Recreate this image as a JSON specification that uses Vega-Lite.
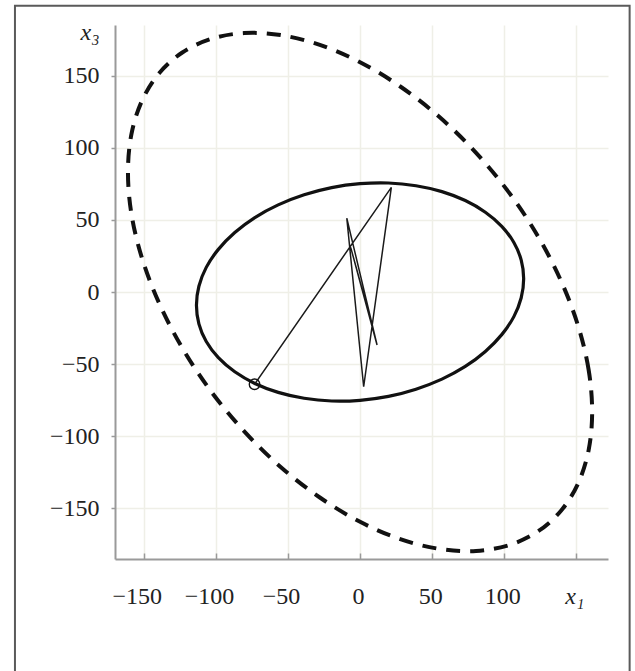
{
  "$schema": "https://vega.github.io/schema/vega-lite/v6.json",
  "width": 493,
  "height": 534,
  "autosize": "none",
  "padding": {"left": 115, "top": 25, "right": 27, "bottom": 112},
  "background": "white",
  "config": {
    "view": {"stroke": null},
    "font": "Liberation Serif",
    "axis": {
      "labelFont": "Liberation Serif", "labelFontSize": 24, "labelColor": "#222222",
      "labelFlush": false, "labelOverlap": false,
      "tickColor": "#9a9a9a", "tickWidth": 1.5,
      "domainColor": "#9a9a9a", "domainWidth": 2,
      "grid": true, "gridColor": "#efefe7", "gridWidth": 1.5,
      "title": null
    },
    "axisX": {"tickSize": -6, "labelPadding": 31},
    "axisY": {"tickSize": 4, "labelPadding": 12}
  },
  "datasets": {
    "outer": [
      {"i": 0, "x1": 161, "x3": -83.2}, {"i": 1, "x1": 158.6, "x3": -54.2}, {"i": 2, "x1": 151.3, "x3": -23.6},
      {"i": 3, "x1": 139.4, "x3": 7.7}, {"i": 4, "x1": 123.3, "x3": 38.9}, {"i": 5, "x1": 103.5, "x3": 68.8},
      {"i": 6, "x1": 80.5, "x3": 96.6}, {"i": 7, "x1": 55.1, "x3": 121.5}, {"i": 8, "x1": 27.9, "x3": 142.7},
      {"i": 9, "x1": 0, "x3": 159.6}, {"i": 10, "x1": -27.9, "x3": 171.6}, {"i": 11, "x1": -55.1, "x3": 178.4},
      {"i": 12, "x1": -80.5, "x3": 179.8}, {"i": 13, "x1": -103.5, "x3": 175.7}, {"i": 14, "x1": -123.3, "x3": 166.3},
      {"i": 15, "x1": -139.4, "x3": 151.9}, {"i": 16, "x1": -151.3, "x3": 132.8}, {"i": 17, "x1": -158.6, "x3": 109.6},
      {"i": 18, "x1": -161, "x3": 83.2}, {"i": 19, "x1": -158.6, "x3": 54.2}, {"i": 20, "x1": -151.3, "x3": 23.6},
      {"i": 21, "x1": -139.4, "x3": -7.7}, {"i": 22, "x1": -123.3, "x3": -38.9}, {"i": 23, "x1": -103.5, "x3": -68.8},
      {"i": 24, "x1": -80.5, "x3": -96.6}, {"i": 25, "x1": -55.1, "x3": -121.5}, {"i": 26, "x1": -27.9, "x3": -142.7},
      {"i": 27, "x1": 0, "x3": -159.6}, {"i": 28, "x1": 27.9, "x3": -171.6}, {"i": 29, "x1": 55.1, "x3": -178.4},
      {"i": 30, "x1": 80.5, "x3": -179.8}, {"i": 31, "x1": 103.5, "x3": -175.7}, {"i": 32, "x1": 123.3, "x3": -166.3},
      {"i": 33, "x1": 139.4, "x3": -151.9}, {"i": 34, "x1": 151.3, "x3": -132.8}, {"i": 35, "x1": 158.6, "x3": -109.6}
    ],
    "inner": [
      {"i": 0, "x1": 113.5, "x3": 9.2}, {"i": 1, "x1": 111.8, "x3": 22.1}, {"i": 2, "x1": 106.7, "x3": 34.4},
      {"i": 3, "x1": 98.3, "x3": 45.6}, {"i": 4, "x1": 86.9, "x3": 55.4}, {"i": 5, "x1": 73.0, "x3": 63.5},
      {"i": 6, "x1": 56.8, "x3": 69.7}, {"i": 7, "x1": 38.8, "x3": 73.8}, {"i": 8, "x1": 19.7, "x3": 75.7},
      {"i": 9, "x1": 0, "x3": 75.2}, {"i": 10, "x1": -19.7, "x3": 72.5}, {"i": 11, "x1": -38.8, "x3": 67.5},
      {"i": 12, "x1": -56.8, "x3": 60.5}, {"i": 13, "x1": -73.0, "x3": 51.7}, {"i": 14, "x1": -86.9, "x3": 41.3},
      {"i": 15, "x1": -98.3, "x3": 29.6}, {"i": 16, "x1": -106.7, "x3": 17.1}, {"i": 17, "x1": -111.8, "x3": 4.0},
      {"i": 18, "x1": -113.5, "x3": -9.2}, {"i": 19, "x1": -111.8, "x3": -22.1}, {"i": 20, "x1": -106.7, "x3": -34.4},
      {"i": 21, "x1": -98.3, "x3": -45.6}, {"i": 22, "x1": -86.9, "x3": -55.4}, {"i": 23, "x1": -73.0, "x3": -63.5},
      {"i": 24, "x1": -56.8, "x3": -69.7}, {"i": 25, "x1": -38.8, "x3": -73.8}, {"i": 26, "x1": -19.7, "x3": -75.7},
      {"i": 27, "x1": 0, "x3": -75.2}, {"i": 28, "x1": 19.7, "x3": -72.5}, {"i": 29, "x1": 38.8, "x3": -67.5},
      {"i": 30, "x1": 56.8, "x3": -60.5}, {"i": 31, "x1": 73.0, "x3": -51.7}, {"i": 32, "x1": 86.9, "x3": -41.3},
      {"i": 33, "x1": 98.3, "x3": -29.6}, {"i": 34, "x1": 106.7, "x3": -17.1}, {"i": 35, "x1": 111.8, "x3": -4.0}
    ],
    "path": [
      {"i": 0, "x1": -73.2, "x3": -64.1},
      {"i": 1, "x1": 21.7, "x3": 72.7},
      {"i": 2, "x1": 2.5, "x3": -65.8},
      {"i": 3, "x1": -9.2, "x3": 51.2},
      {"i": 4, "x1": 11.8, "x3": -36.8},
      {"i": 5, "x1": -6.5, "x3": 31},
      {"i": 6, "x1": 9.2, "x3": -26.4}
    ],
    "marker": [{"x1": -73.2, "x3": -64.1}],
    "frame": [{"left": -239.4, "right": 187, "top": 198.8, "bottom": -300}]
  },
  "layer": [
    {
      "data": {"name": "frame"},
      "mark": {"type": "rect", "fill": "transparent", "stroke": "#5a5a5a", "strokeWidth": 2, "clip": false},
      "encoding": {
        "x": {"field": "left", "type": "quantitative", "scale": {"domain": [-170, 172], "nice": false, "zero": false}},
        "x2": {"field": "right"},
        "y": {"field": "top", "type": "quantitative", "scale": {"domain": [-185.4, 185.4], "nice": false, "zero": false}},
        "y2": {"field": "bottom"}
      }
    },
    {
      "data": {"name": "outer"},
      "mark": {"type": "line", "color": "#111111", "strokeWidth": 4, "strokeDash": [14, 10], "strokeCap": "butt", "interpolate": "cardinal-closed"},
      "encoding": {
        "x": {
          "field": "x1", "type": "quantitative",
          "scale": {"domain": [-170, 172], "nice": false, "zero": false},
          "axis": {
            "values": [-150, -100, -50, 0, 50, 100, 150],
            "title": null,
            "labelExpr": "datum.value == 150 ? 'x₁' : datum.label",
            "labelFontStyle": {"condition": {"test": "datum.value == 150", "value": "italic"}, "value": "normal"},
            "labelOffset": {"condition": {"test": "datum.value < 0", "value": -7}, "value": -2},
            "labelPadding": 31,
            "tickSize": -6
          }
        },
        "y": {
          "field": "x3", "type": "quantitative",
          "scale": {"domain": [-185.4, 185.4], "nice": false, "zero": false},
          "axis": {
            "values": [-150, -100, -50, 0, 50, 100, 150, 180],
            "title": null,
            "labelExpr": "datum.value == 180 ? 'x₃' : datum.label",
            "labelFontStyle": {"condition": {"test": "datum.value == 180", "value": "italic"}, "value": "normal"},
            "labelPadding": 12,
            "tickSize": 4,
            "tickOpacity": {"condition": {"test": "datum.value == 180", "value": 0}, "value": 1},
            "gridOpacity": {"condition": {"test": "datum.value == 180", "value": 0}, "value": 1}
          }
        },
        "order": {"field": "i", "type": "quantitative"}
      }
    },
    {
      "data": {"name": "inner"},
      "mark": {"type": "line", "color": "#111111", "strokeWidth": 3.2, "interpolate": "cardinal-closed"},
      "encoding": {
        "x": {"field": "x1", "type": "quantitative"},
        "y": {"field": "x3", "type": "quantitative"},
        "order": {"field": "i", "type": "quantitative"}
      }
    },
    {
      "data": {"name": "path"},
      "mark": {"type": "line", "color": "#1a1a1a", "strokeWidth": 1.5},
      "encoding": {
        "x": {"field": "x1", "type": "quantitative"},
        "y": {"field": "x3", "type": "quantitative"},
        "order": {"field": "i", "type": "quantitative"}
      }
    },
    {
      "data": {"name": "marker"},
      "mark": {"type": "point", "shape": "circle", "filled": false, "color": "#111111", "size": 110, "strokeWidth": 1.4, "opacity": 1},
      "encoding": {
        "x": {"field": "x1", "type": "quantitative"},
        "y": {"field": "x3", "type": "quantitative"}
      }
    }
  ]
}
